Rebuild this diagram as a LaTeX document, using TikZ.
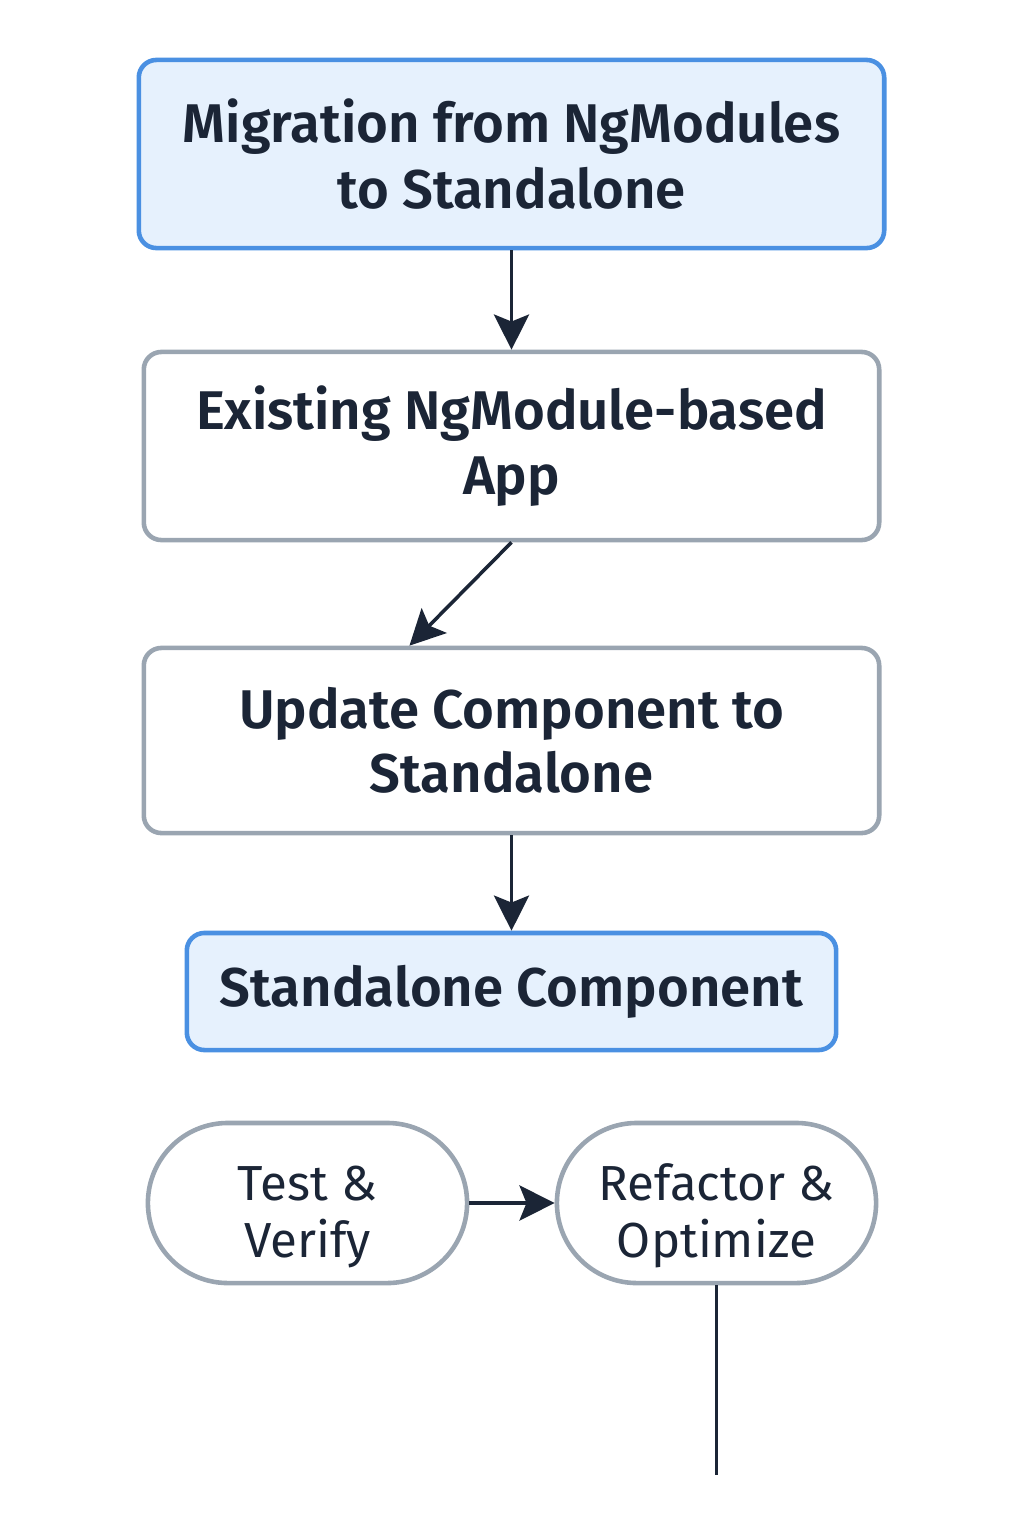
\documentclass[tikz,border=0pt]{standalone}
\usepackage{fontspec}
\setmainfont{Fira Sans}[BoldFont={Fira Sans SemiBold}]
\usetikzlibrary{arrows.meta}

\definecolor{boxblue}{HTML}{E6F1FD}
\definecolor{edgeblue}{HTML}{4A90E2}
\definecolor{edgegray}{HTML}{9AA5B1}
\definecolor{inkdark}{HTML}{1B2536}

\newcommand{\pillstrut}{\rule{0pt}{0.62cm}}

\begin{document}
\begin{tikzpicture}[x=0.01cm, y=-0.01cm, >={Stealth[length=10pt,width=10pt,inset=2pt]},
                    every node/.style={align=center, text=inkdark, inner sep=0pt},
                    mainbox/.style={draw=edgeblue, fill=boxblue, line width=1.3pt,
                                    rounded corners=5pt, font=\bfseries\fontsize{15.5}{18.8}\selectfont},
                    stepbox/.style={draw=edgegray, fill=white, line width=1.3pt,
                                    rounded corners=5pt, font=\bfseries\fontsize{15.5}{18.3}\selectfont},
                    pill/.style={draw=edgegray, fill=white, line width=1.3pt, rounded corners=0.8cm,
                                 minimum width=3.19cm, minimum height=1.6cm,
                                 font=\fontsize{14}{16.2}\selectfont},
                    link/.style={->, color=inkdark, line width=1pt}]
\useasboundingbox (0,0) rectangle (1024,1536);

\node[mainbox, minimum width=7.45cm, minimum height=1.88cm] (mig) at (511.5,154)
  {Migration from NgModules\\ to Standalone};
\node[stepbox, minimum width=7.35cm, minimum height=1.88cm] (app) at (511.5,446)
  {Existing NgModule-based\\ App};
\node[stepbox, minimum width=7.35cm, minimum height=1.85cm] (upd) at (511.5,740.5)
  {Update Component to\\ Standalone};
\node[mainbox, minimum width=6.49cm, minimum height=1.17cm] (std) at (511.5,991.5)
  {Standalone Component};
\node[pill] (test) at (307.5,1203) {\pillstrut Test \&\\ Verify};
\node[pill] (refac) at (716.5,1203) {\pillstrut Refactor \&\\ Optimize};
\coordinate (tail) at (716.5,1475);

\path[link]
(mig) edge (app)
(app.south) edge ([xshift=-1.02cm]upd.north)
(upd) edge (std)
(test) edge (refac);
\draw[inkdark, line width=1pt] (refac.south) -- (tail);
\end{tikzpicture}
\end{document}
